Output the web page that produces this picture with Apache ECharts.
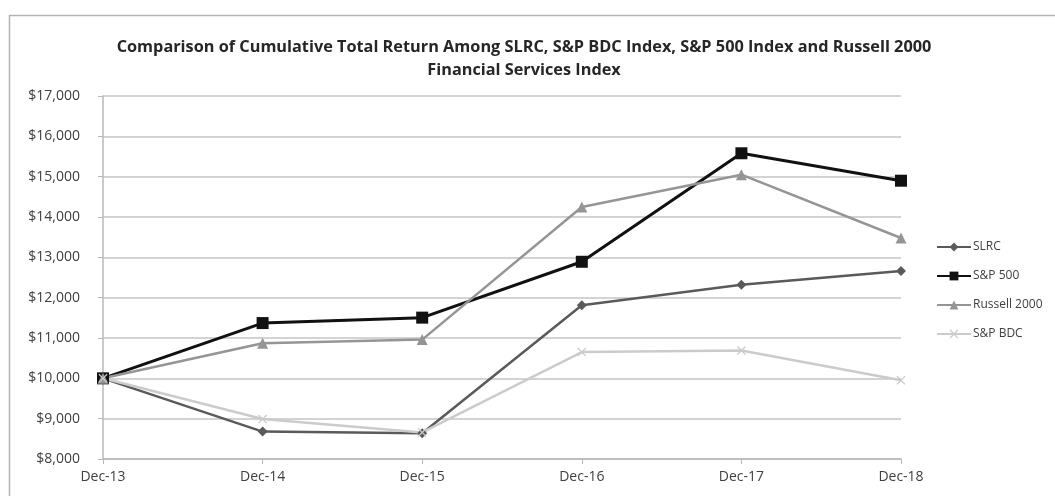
<!DOCTYPE html>
<html lang="en">
<head>
    <meta charset="UTF-8">
    <title>Cumulative Total Return</title>
    <script src="https://cdn.jsdelivr.net/npm/echarts@6/dist/echarts.min.js"></script>
    <style>
        html, body { margin: 0; padding: 0; background: #fff; }
        #main { width: 1055px; height: 496px; }
    </style>
</head>
<body>
<div id="main"></div>
<script>
    // data
    const years = ['Dec-13', 'Dec-14', 'Dec-15', 'Dec-16', 'Dec-17', 'Dec-18'];
    const slrc = [10000, 8680, 8640, 11810, 12320, 12660];
    const sp500 = [10000, 11370, 11505, 12890, 15580, 14900];
    const russell2000 = [10000, 10870, 10960, 14250, 15050, 13480];
    const spBdc = [10000, 8990, 8660, 10650, 10690, 9950];

    // X shaped marker
    const xMark = 'path://M0,1L1,0L5,4L9,0L10,1L6,5L10,9L9,10L5,6L1,10L0,9L4,5Z';

    let myChart = echarts.init(document.getElementById('main'));
    let font = '"Open Sans", Lato, sans-serif';

    function line(name, data, color, width, symbol, size) {
        return {
            name: name,
            type: 'line',
            data: data,
            symbol: symbol,
            symbolSize: size,
            showSymbol: true,
            lineStyle: {color: color, width: width},
            itemStyle: {color: color, borderWidth: 0},
            emphasis: {disabled: true}
        };
    }

    let option = {
        animation: false,
        textStyle: {fontFamily: font},
        title: {
            text: 'Comparison of Cumulative Total Return Among SLRC, S&P BDC Index, S&P 500 Index and Russell 2000\nFinancial Services Index',
            left: 519,
            top: 31,
            textAlign: 'center',
            textStyle: {fontSize: 16.3, fontWeight: 'bold', color: '#262626', lineHeight: 23, fontFamily: font}
        },
        graphic: [{
            type: 'rect',
            shape: {x: 9.5, y: 15.5, width: 1100, height: 520},
            style: {fill: 'none', stroke: '#b4b4b4', lineWidth: 1.5},
            silent: true
        }],
        legend: {
            orient: 'vertical',
            left: 931,
            top: 236,
            itemGap: 17,
            itemWidth: 34,
            itemHeight: 11,
            data: ['SLRC', 'S&P 500', 'Russell 2000', 'S&P BDC'],
            textStyle: {fontSize: 12, color: '#404040', padding: [0, 0, 0, -3]}
        },
        grid: {left: 103, right: 154, top: 96, bottom: 37},
        xAxis: {
            type: 'category',
            data: years,
            boundaryGap: false,
            axisLine: {lineStyle: {color: '#b8b8b8', width: 1.5}},
            axisTick: {show: true, length: 5, lineStyle: {color: '#b8b8b8'}},
            axisLabel: {fontSize: 14, color: '#404040', margin: 11}
        },
        yAxis: {
            type: 'value',
            min: 8000,
            max: 17000,
            interval: 1000,
            axisLine: {show: true, lineStyle: {color: '#b8b8b8', width: 1.5}},
            axisTick: {show: true, length: 5, lineStyle: {color: '#b8b8b8'}},
            splitLine: {lineStyle: {color: '#c4c4c4', width: 1.5}},
            axisLabel: {
                fontSize: 14,
                color: '#404040',
                margin: 23,
                formatter: v => '$' + v.toLocaleString('en-US')
            }
        },
        series: [
            line('SLRC', slrc, '#5a5a5a', 2.5, 'diamond', 10),
            line('S&P 500', sp500, '#111111', 3, 'rect', 12),
            line('Russell 2000', russell2000, '#959595', 2.5, 'triangle', 11),
            line('S&P BDC', spBdc, '#cbcbcb', 2.5, xMark, 9)
        ]
    };
    myChart.setOption(option);
</script>
</body>
</html>
